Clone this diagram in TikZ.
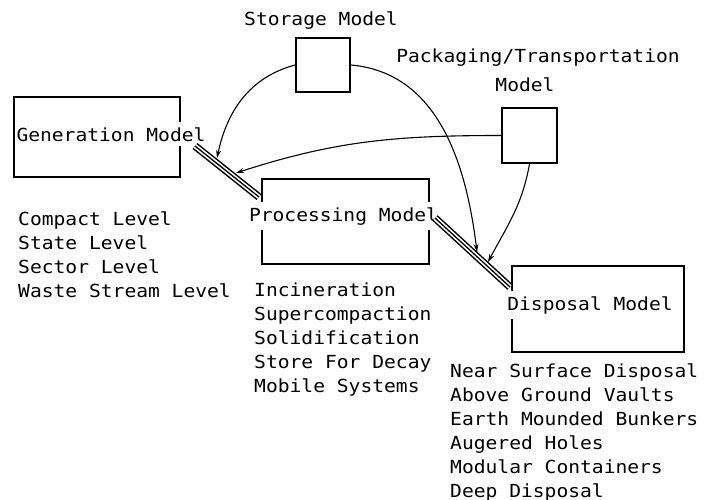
\documentclass[tikz,border=0pt]{standalone}
\usepackage{fontspec}
\newfontfamily\monof[FakeStretch=1.09]{DejaVu Sans Mono}
\usetikzlibrary{arrows.meta}
\begin{document}
\begin{tikzpicture}[x=1pt,y=-1pt,
  box/.style={draw,line width=1.8pt,rectangle,inner sep=0pt},
  lbl/.style={font=\monof\fontsize{18}{22}\selectfont,inner sep=0pt,anchor=base},
  boxlbl/.style={lbl,fill=white,inner xsep=1pt,inner ysep=5pt},
  item/.style={lbl,anchor=base west},
  arr/.style={line width=1.1pt,-{Stealth[length=8pt,width=5pt]}},
  triple/.style={line width=7.6pt,postaction={draw=white,line width=4.6pt},postaction={draw=black,line width=1.3pt}}]
\useasboundingbox[fill=white] (0,0) rectangle (717,500);

% boxes
\node[box,minimum width=166pt,minimum height=80pt] (gen) at (97,137) {};
\node[box,minimum width=167pt,minimum height=85pt] (proc) at (345.5,221.5) {};
\node[box,minimum width=172pt,minimum height=86pt] (disp) at (598,309) {};
\node[box,minimum width=54pt,minimum height=54pt] (st) at (323,65) {};
\node[box,minimum width=55pt,minimum height=55pt] (pk) at (529.5,135.5) {};

% box labels
\node[boxlbl] (genl) at (111,141) {Generation Model};
\node[boxlbl] (procl) at (343.5,221) {Processing Model};
\node[boxlbl] (displ) at (590,310) {Disposal Model};
\node[lbl] (stl) at (321,26) {Storage Model};
\node[lbl] (pkl1) at (538,63) {Packaging/Transportation};
\node[lbl] (pkl2) at (525,92) {Model};

% lists
\foreach \t [count=\i] in {Compact Level,State Level,Sector Level,Waste Stream Level}
  \node[item] (gi\i) at (18,{225+24*(\i-1)}) {\t};
\foreach \t [count=\i] in {Incineration,Supercompaction,Solidification,Store For Decay,Mobile Systems}
  \node[item] (pi\i) at (254,{296+24*(\i-1)}) {\t};
\foreach \t [count=\i] in {Near Surface Disposal,Above Ground Vaults,Earth Mounded Bunkers,Augered Holes,Modular Containers,Deep Disposal}
  \node[item] (di\i) at (450,{377+24*(\i-1)}) {\t};

% triple links
\coordinate (g1) at (195,146);
\coordinate (p1) at (259,197);
\coordinate (p2) at (435,218);
\coordinate (d1) at (510,287);
\draw[triple] (g1) -- (p1);
\draw[triple] (p2) -- (d1);

% arrow targets
\coordinate (t1a) at (217,158);
\coordinate (t1b) at (236,173);
\coordinate (t2a) at (477,252);
\coordinate (t2b) at (488,262);

\draw[arr] (st.west) to[out=195,in=78] (t1a);
\draw[arr] (st.east) to[out=-5,in=97] (t2a);
\draw[arr] (pk.west) to[out=180,in=18] (t1b);
\draw[arr] (pk.south) to[out=-100,in=62] (t2b);
\end{tikzpicture}
\end{document}
